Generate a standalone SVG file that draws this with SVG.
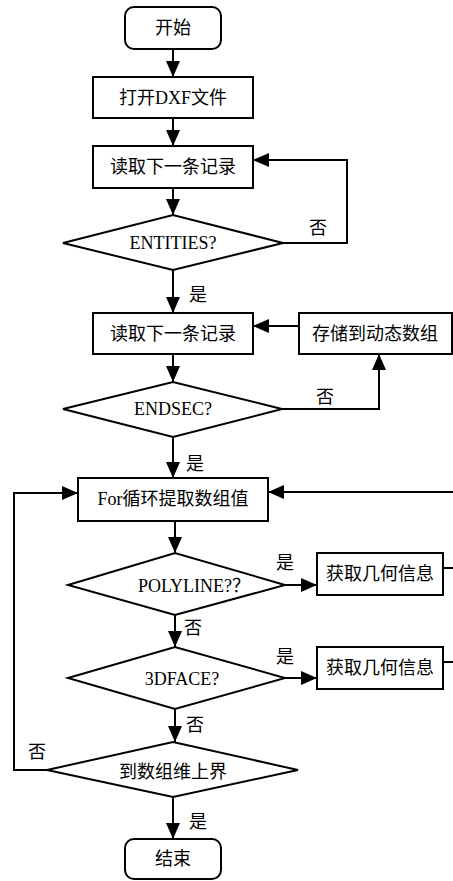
<svg xmlns="http://www.w3.org/2000/svg" width="453" height="881" viewBox="0 0 453 881">
<style>
.n{fill:#fff;stroke:#000;stroke-width:2}
.t{font-family:"Liberation Serif","Noto Sans CJK SC",serif;font-size:18px;fill:#000;text-anchor:middle;dominant-baseline:central}
.l{font-family:"Liberation Serif","Noto Sans CJK SC",serif;font-size:18px;fill:#000;dominant-baseline:central}
.c{fill:none;stroke:#000;stroke-width:2}
</style>
<defs>
<marker id="a" markerUnits="userSpaceOnUse" markerWidth="16" markerHeight="14" refX="16" refY="7" orient="auto"><path d="M0,0 L16,7 L0,14 z" fill="#000"/></marker>
</defs>
<rect width="453" height="881" fill="#fff"/>
<g id="connectors">
<path class="c" d="M173,49 V77" marker-end="url(#a)"/>
<path class="c" d="M173,118 V146" marker-end="url(#a)"/>
<path class="c" d="M173,188 V215" marker-end="url(#a)"/>
<path class="c" d="M283,243 H347 V160 H253" marker-end="url(#a)"/>
<path class="c" d="M173,270 V313" marker-end="url(#a)"/>
<path class="c" d="M299,326 H253" marker-end="url(#a)"/>
<path class="c" d="M173,354 V382" marker-end="url(#a)"/>
<path class="c" d="M282,409 H379 V354" marker-end="url(#a)"/>
<path class="c" d="M173,437 V478" marker-end="url(#a)"/>
<path class="c" d="M175,521 V553" marker-end="url(#a)"/>
<path class="c" d="M285,585 H317" marker-end="url(#a)"/>
<path class="c" d="M443,568 H453"/>
<path class="c" d="M453,492 H268" marker-end="url(#a)"/>
<path class="c" d="M175,615 V647" marker-end="url(#a)"/>
<path class="c" d="M285,678 H317" marker-end="url(#a)"/>
<path class="c" d="M443,662 H453"/>
<path class="c" d="M175,709 V742" marker-end="url(#a)"/>
<path class="c" d="M47,770 H14 V493 H78" marker-end="url(#a)"/>
<path class="c" d="M173,797 V839" marker-end="url(#a)"/>
<text class="l" x="309" y="228">否</text>
<text class="l" x="189" y="295">是</text>
<text class="l" x="316" y="397">否</text>
<text class="l" x="186" y="464">是</text>
<text class="l" x="276" y="563">是</text>
<text class="l" x="184" y="628">否</text>
<text class="l" x="276" y="657">是</text>
<text class="l" x="186" y="725">否</text>
<text class="l" x="28" y="752">否</text>
<text class="l" x="189" y="822">是</text>
</g>
<g id="start"><rect class="n" x="125" y="7" width="96" height="42" rx="9"/><text class="t" x="173" y="28">开始</text></g>
<g id="open"><rect class="n" x="93" y="77" width="160" height="41"/><text class="t" x="173" y="98">打开DXF文件</text></g>
<g id="read1"><rect class="n" x="93" y="146" width="160" height="42"/><text class="t" x="173" y="167">读取下一条记录</text></g>
<g id="entities"><path class="n" d="M63,243 L173,215 L283,243 L173,270 Z"/><text class="t" x="173" y="243">ENTITIES?</text></g>
<g id="read2"><rect class="n" x="93" y="313" width="160" height="41"/><text class="t" x="173" y="334">读取下一条记录</text></g>
<g id="store"><rect class="n" x="299" y="313" width="153" height="41"/><text class="t" x="375" y="334">存储到动态数组</text></g>
<g id="endsec"><path class="n" d="M63,409 L173,382 L282,409 L173,437 Z"/><text class="t" x="173" y="409">ENDSEC?</text></g>
<g id="for"><rect class="n" x="78" y="478" width="190" height="43"/><text class="t" x="173" y="499">For循环提取数组值</text></g>
<g id="polyline"><path class="n" d="M68,585 L175,553 L285,585 L175,615 Z"/><text class="t" x="194" y="586">POLYLINE?？</text></g>
<g id="geo1"><rect class="n" x="317" y="553" width="126" height="42"/><text class="t" x="380" y="574">获取几何信息</text></g>
<g id="face"><path class="n" d="M68,678 L175,647 L285,678 L175,709 Z"/><text class="t" x="182" y="679">3DFACE?</text></g>
<g id="geo2"><rect class="n" x="317" y="647" width="126" height="42"/><text class="t" x="380" y="668">获取几何信息</text></g>
<g id="bound"><path class="n" d="M47,770 L173,742 L298,770 L173,797 Z"/><text class="t" x="173" y="772">到数组维上界</text></g>
<g id="end"><rect class="n" x="125" y="839" width="96" height="40" rx="9"/><text class="t" x="173" y="859">结束</text></g>
</svg>
